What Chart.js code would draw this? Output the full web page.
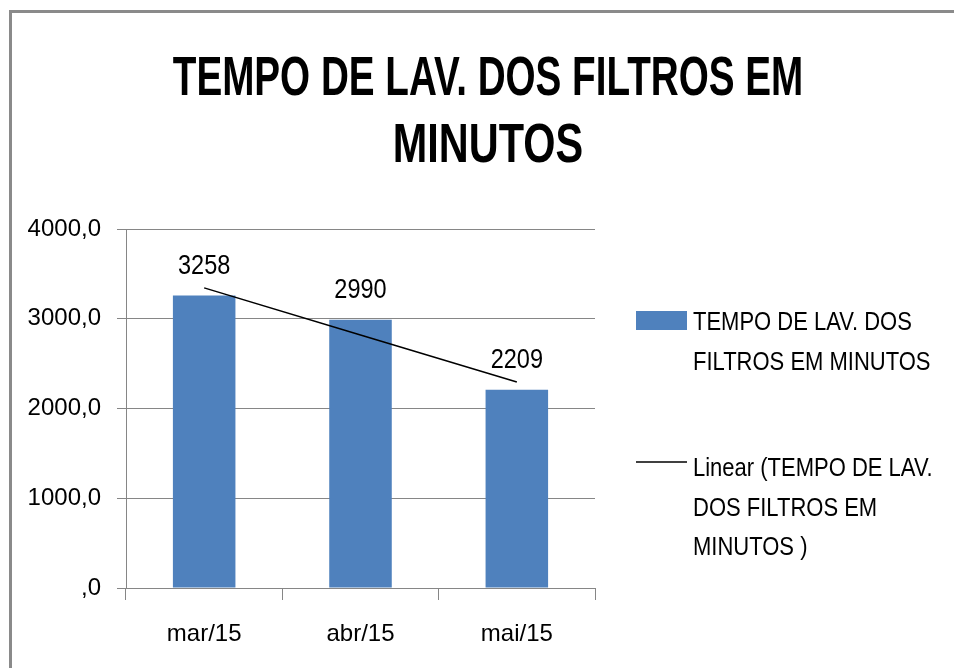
<!DOCTYPE html>
<html>
<head>
<meta charset="utf-8">
<script src="https://cdn.jsdelivr.net/npm/chart.js@4.4.1/dist/chart.umd.min.js"></script>
<style>
    body { margin: 0; background: #fff; overflow: hidden; }
    #chart { display: block; }
</style>
</head>
<body>
<canvas id="chart" width="954" height="668"></canvas>
<script>
// chart data
var months = ['mar/15', 'abr/15', 'mai/15'];
var minutes = [3258, 2990, 2209];
var trendValues = [3344, 2819, 2295];
var titleLines = ['TEMPO DE LAV. DOS FILTROS EM', 'MINUTOS'];
var seriesName = 'TEMPO DE LAV. DOS FILTROS EM MINUTOS';
var trendName = 'Linear (TEMPO DE LAV. DOS FILTROS EM MINUTOS )';
var legendLines = [
    ['TEMPO DE LAV. DOS', 'FILTROS EM MINUTOS'],
    ['Linear (TEMPO DE LAV.', 'DOS FILTROS EM', 'MINUTOS )']
];

var FONT = "'Liberation Sans', Arial, sans-serif";
var AXIS_GRAY = '#868686';
var BAR_BLUE = '#4f81bd';

// draws text squeezed horizontally, like the narrow office font
function drawSqueezed(ctx, text, x, y, sx, align) {
    ctx.save();
    ctx.translate(x, y);
    ctx.scale(sx, 1);
    ctx.textAlign = align;
    ctx.fillText(text, 0, 0);
    ctx.restore();
}

// white background and the grey frame (top and left edges only)
var framePlugin = {
    id: 'frame',
    beforeDraw: function (chart) {
        var ctx = chart.ctx;
        ctx.save();
        ctx.fillStyle = '#fff';
        ctx.fillRect(0, 0, chart.width, chart.height);
        ctx.fillStyle = '#8a8a8a';
        ctx.fillRect(9, 10, chart.width - 9, 3);
        ctx.fillRect(9, 10, 3, chart.height - 10);
        ctx.restore();
    }
};

var titlePlugin = {
    id: 'officeTitle',
    afterDraw: function (chart) {
        var ctx = chart.ctx;
        ctx.save();
        ctx.fillStyle = '#000';
        ctx.font = 'bold 56px ' + FONT;
        ctx.textBaseline = 'alphabetic';
        drawSqueezed(ctx, titleLines[0], 488, 95, 0.69, 'center');
        drawSqueezed(ctx, titleLines[1], 488, 162, 0.74, 'center');
        ctx.restore();
    }
};

var valueLabels = {
    id: 'valueLabels',
    afterDatasetsDraw: function (chart) {
        var ctx = chart.ctx;
        var meta = chart.getDatasetMeta(0);
        ctx.save();
        ctx.fillStyle = '#000';
        ctx.font = '28px ' + FONT;
        ctx.textBaseline = 'middle';
        meta.data.forEach(function (bar, i) {
            drawSqueezed(ctx, String(chart.data.datasets[0].data[i]), bar.x, bar.y - 29, 0.84, 'center');
        });
        ctx.restore();
    }
};

var sideLegend = {
    id: 'sideLegend',
    afterDraw: function (chart) {
        var ctx = chart.ctx;
        var tops = [312, 458];
        ctx.save();
        ctx.font = '25px ' + FONT;
        ctx.fillStyle = '#000';
        ctx.textBaseline = 'alphabetic';
        chart.data.datasets.forEach(function (ds, i) {
            var top = tops[i];
            if (ds.type === 'line') {
                ctx.strokeStyle = ds.borderColor;
                ctx.lineWidth = 1.5;
                ctx.beginPath();
                ctx.moveTo(636, top + 4);
                ctx.lineTo(687, top + 4);
                ctx.stroke();
            } else {
                ctx.fillStyle = ds.backgroundColor;
                ctx.fillRect(636, top - 1, 51, 19);
                ctx.fillStyle = '#000';
            }
            legendLines[i].forEach(function (line, k) {
                drawSqueezed(ctx, line, 693, top + 18 + k * 39.5, 0.88, 'left');
            });
        });
        ctx.restore();
    }
};

var canvas = document.getElementById('chart');
var chart = new Chart(canvas, {
    type: 'bar',
    data: {
        labels: months,
        datasets: [
            {
                type: 'bar',
                label: seriesName,
                data: minutes,
                backgroundColor: BAR_BLUE,
                borderWidth: 0,
                barPercentage: 0.4,
                categoryPercentage: 1,
                order: 1
            },
            {
                type: 'line',
                label: trendName,
                data: trendValues,
                borderColor: '#000',
                borderWidth: 1.5,
                pointRadius: 0,
                tension: 0,
                fill: false,
                order: 0
            }
        ]
    },
    options: {
        responsive: false,
        animation: false,
        devicePixelRatio: 1,
        layout: { padding: { top: 229, right: 359, left: 0, bottom: 0 } },
        plugins: {
            legend: { display: false },
            title: { display: false },
            tooltip: { enabled: false }
        },
        scales: {
            x: {
                offset: true,
                grid: { offset: true, drawOnChartArea: false, drawTicks: true, tickLength: 12, color: AXIS_GRAY },
                border: { color: AXIS_GRAY, width: 1 },
                ticks: { color: '#000', font: { family: FONT, size: 24 }, padding: 20, maxRotation: 0 },
                afterFit: function (scale) { scale.height = 80; }
            },
            y: {
                min: 0,
                max: 4000,
                ticks: {
                    stepSize: 1000,
                    color: '#000',
                    padding: 16,
                    font: { family: FONT, size: 24 },
                    callback: function (v) { return v === 0 ? ',0' : v.toFixed(1).replace('.', ','); }
                },
                grid: { color: AXIS_GRAY, tickLength: 9 },
                border: { color: AXIS_GRAY, width: 1 },
                afterFit: function (scale) { scale.width = 126; }
            }
        }
    },
    plugins: [framePlugin, titlePlugin, valueLabels, sideLegend]
});
</script>
</body>
</html>
